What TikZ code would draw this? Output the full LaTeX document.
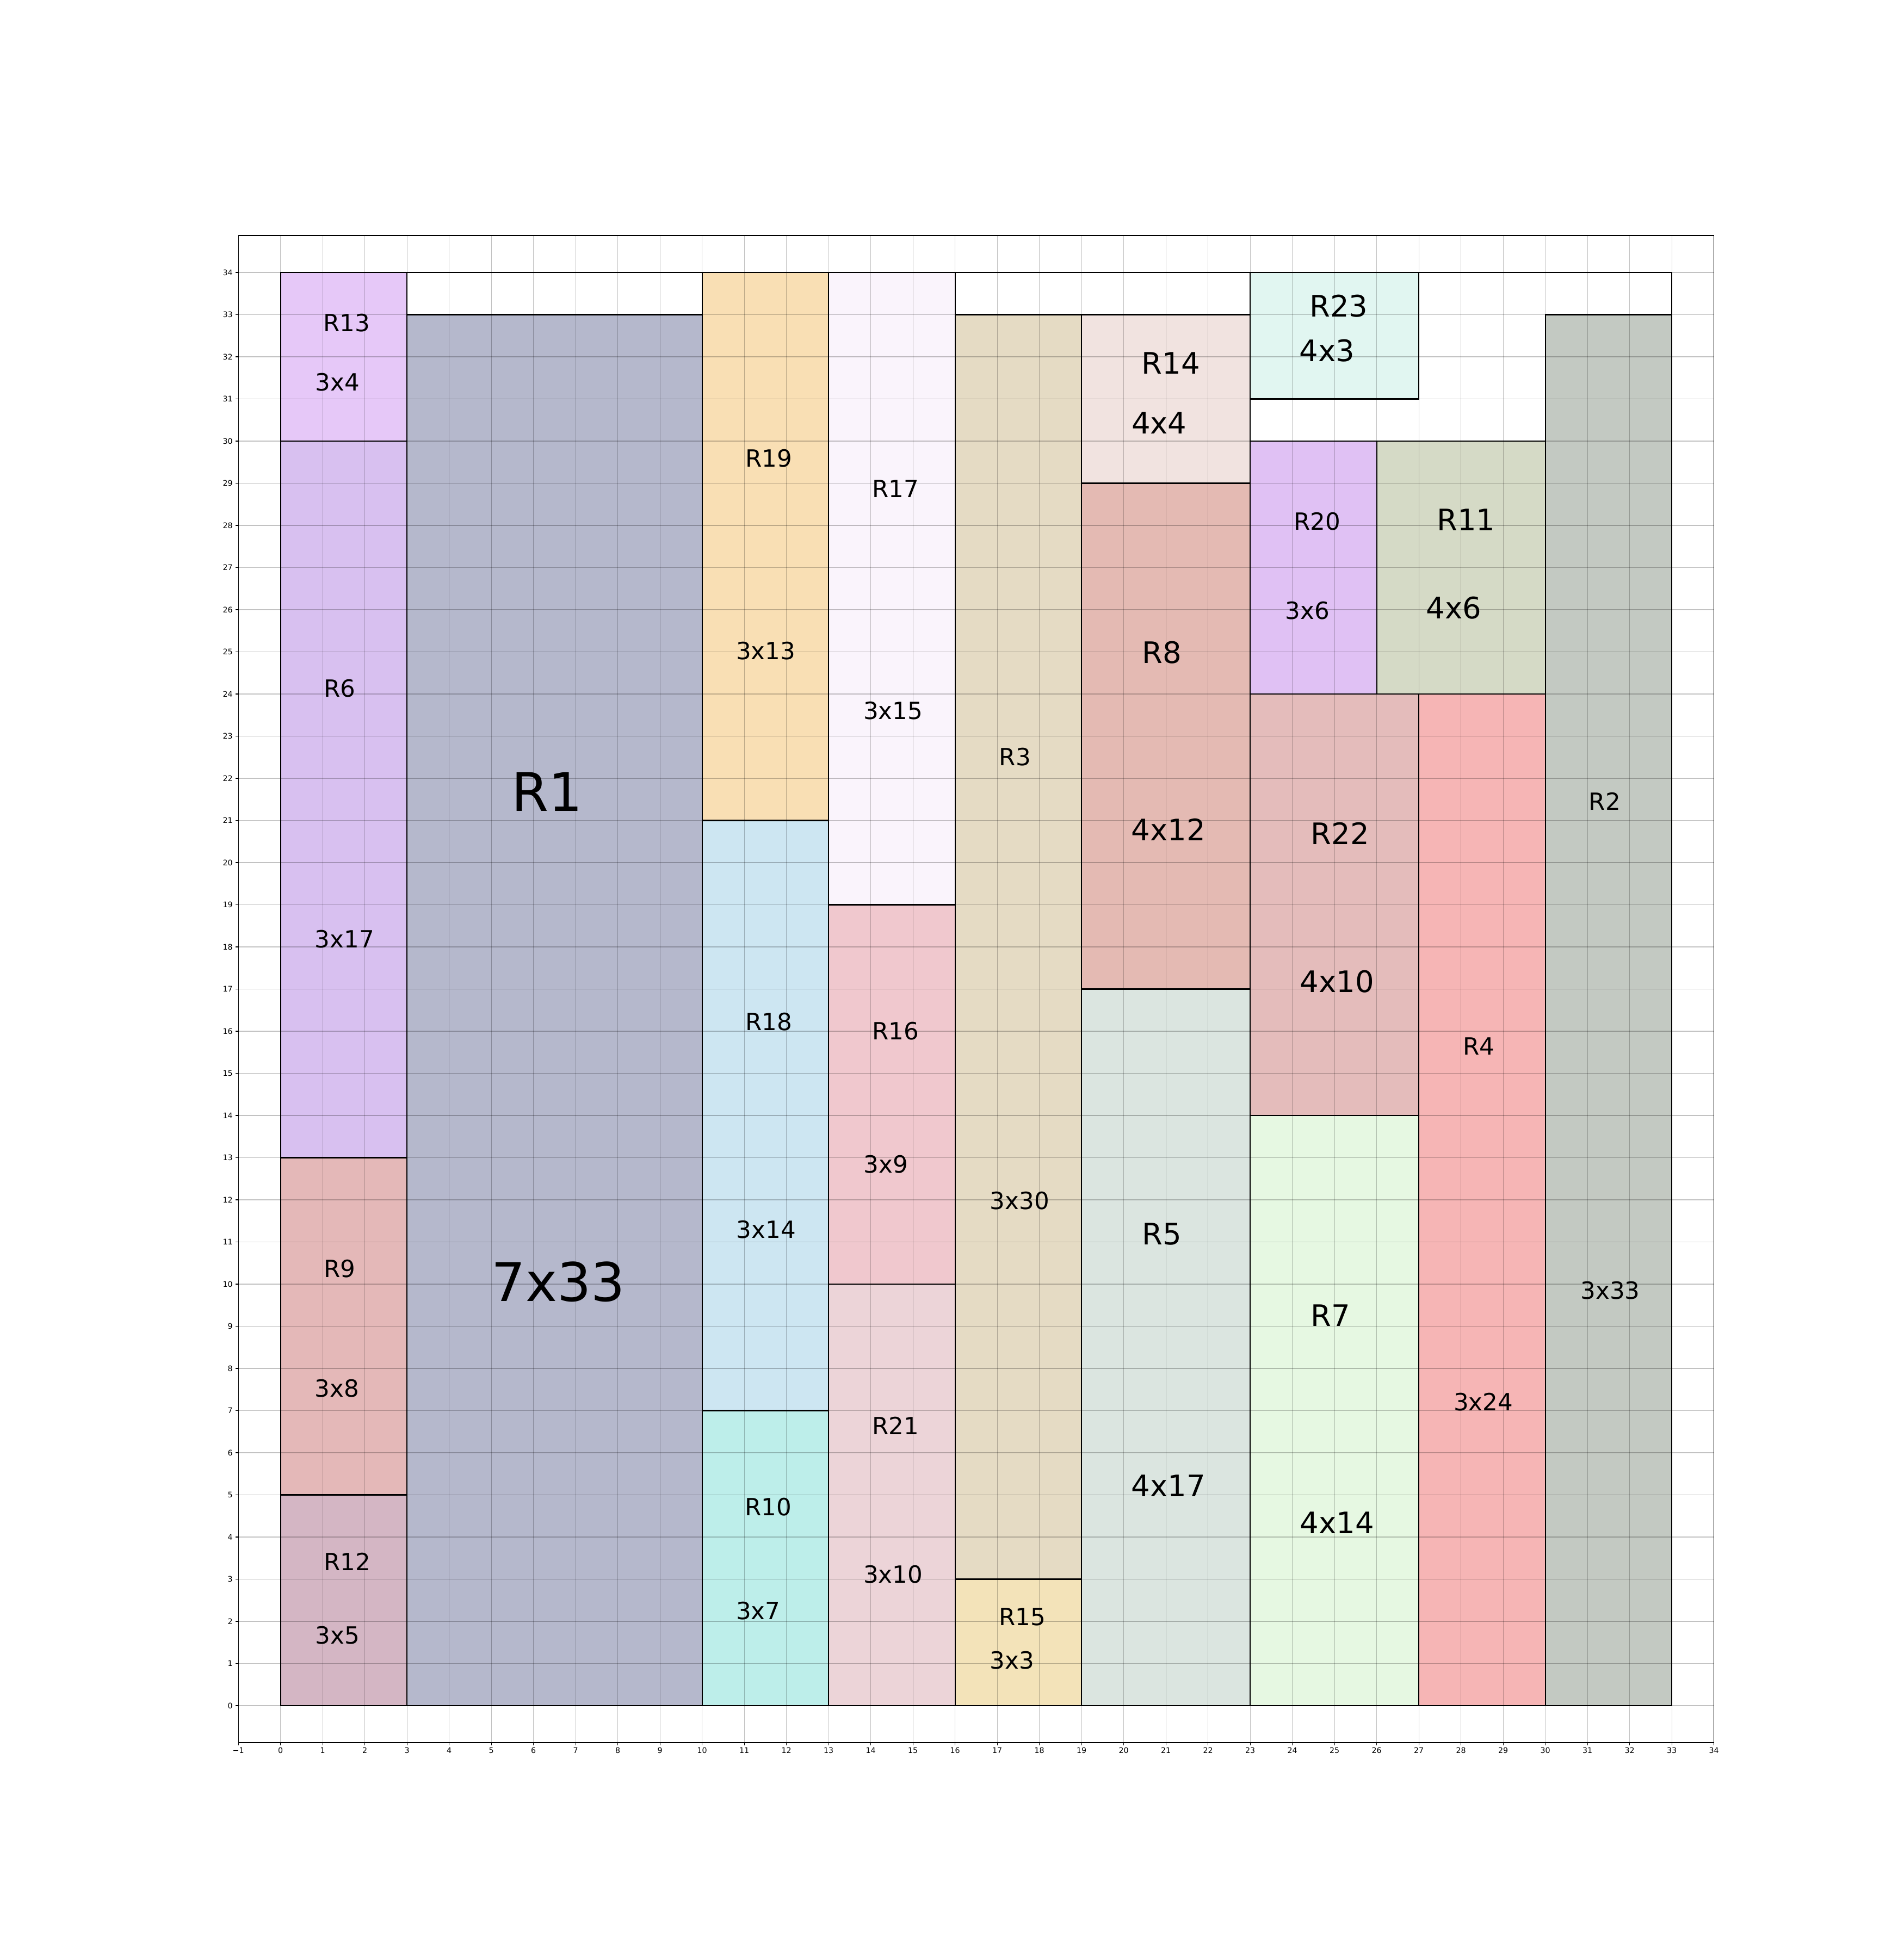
\documentclass[tikz,border=0pt]{standalone}
\usepackage{fontspec}
\setmainfont{DejaVu Sans}
\definecolor{cR1}{HTML}{B5B8CC}
\definecolor{cR2}{HTML}{C3C9C2}
\definecolor{cR3}{HTML}{E5DBC4}
\definecolor{cR4}{HTML}{F6B5B5}
\definecolor{cR5}{HTML}{DBE5E0}
\definecolor{cR6}{HTML}{D8C0F0}
\definecolor{cR7}{HTML}{E6F8E2}
\definecolor{cR8}{HTML}{E4BAB3}
\definecolor{cR9}{HTML}{E4B8B8}
\definecolor{cR10}{HTML}{BDEEEA}
\definecolor{cR11}{HTML}{D5DAC6}
\definecolor{cR12}{HTML}{D4B6C4}
\definecolor{cR13}{HTML}{E6C8F8}
\definecolor{cR14}{HTML}{F1E3E0}
\definecolor{cR15}{HTML}{F3E3B9}
\definecolor{cR16}{HTML}{F0C8CE}
\definecolor{cR17}{HTML}{FAF4FC}
\definecolor{cR18}{HTML}{CDE6F2}
\definecolor{cR19}{HTML}{F9DFB4}
\definecolor{cR20}{HTML}{E0C1F4}
\definecolor{cR21}{HTML}{ECD4D8}
\definecolor{cR22}{HTML}{E4BCBB}
\definecolor{cR23}{HTML}{E1F6F1}
\begin{document}
\begin{tikzpicture}[x=1cm,y=1cm,
  rectbox/.style={draw=black, line width=0.85pt},
  gridline/.style={draw=black, draw opacity=0.24, line width=0.38pt},
  spine/.style={draw=black, line width=0.45pt},
  lblS/.style={font=\fontsize{16}{19}\selectfont, inner sep=0pt},
  lblM/.style={font=\fontsize{20}{24}\selectfont, inner sep=0pt},
  lblL/.style={font=\fontsize{36}{43}\selectfont, inner sep=0pt},
  ticklbl/.style={font=\fontsize{5.2}{6}\selectfont, inner sep=0pt}]
\useasboundingbox (-6.654,-5.987) rectangle (38.507,40.465);
% filled rectangles
\foreach \n/\x/\y/\w/\h in {R13/0/30/3/4, R6/0/13/3/17, R9/0/5/3/8, R12/0/0/3/5,
  R1/3/0/7/33, R19/10/21/3/13, R18/10/7/3/14, R10/10/0/3/7,
  R17/13/19/3/15, R16/13/10/3/9, R21/13/0/3/10, R3/16/3/3/30, R15/16/0/3/3,
  R14/19/29/4/4, R8/19/17/4/12, R5/19/0/4/17, R23/23/31/4/3, R20/23/24/3/6,
  R11/26/24/4/6, R22/23/14/4/10, R7/23/0/4/14, R4/27/0/3/24, R2/30/0/3/33}
  \fill[c\n] (\x,\y) rectangle ++(\w,\h);
% grid
\foreach \i in {-1,...,34} \draw[gridline] (\i,-0.878) -- (\i,34.878);
\foreach \j in {0,...,34} \draw[gridline] (-1,\j) -- (34,\j);
% rectangle borders
\foreach \x/\y/\w/\h in {0/30/3/4, 0/13/3/17, 0/5/3/8, 0/0/3/5,
  3/0/7/33, 10/21/3/13, 10/7/3/14, 10/0/3/7,
  13/19/3/15, 13/10/3/9, 13/0/3/10, 16/3/3/30, 16/0/3/3,
  19/29/4/4, 19/17/4/12, 19/0/4/17, 23/31/4/3, 23/24/3/6,
  26/24/4/6, 23/14/4/10, 23/0/4/14, 27/0/3/24, 30/0/3/33}
  \draw[rectbox] (\x,\y) rectangle ++(\w,\h);
% container outline
\draw[draw=black, line width=0.85pt] (0,0) rectangle (33,34);
% axes frame
\draw[spine] (-1,-0.878) rectangle (34,34.878);
\foreach \i in {-1,...,34} {
  \draw[spine] (\i,-0.878) -- (\i,-0.943);
}
\node[ticklbl, anchor=north] (xtm1) at (-1,-0.99) {−1};
\foreach \i in {0,...,34} {
  \node[ticklbl, anchor=north] (xt\i) at (\i,-0.99) {\i};
}
\foreach \j in {0,...,34} {
  \draw[spine] (-1,\j) -- (-1.065,\j);
  \node[ticklbl, anchor=east] (yt\j) at (-1.13,\j) {\j};
}
% labels
\node[lblS] (l13a) at (1.57,32.80) {R13};
\node[lblS] (l13b) at (1.35,31.40) {3x4};
\node[lblS] (l6a) at (1.40,24.13) {R6};
\node[lblS] (l6b) at (1.52,18.18) {3x17};
\node[lblS] (l9a) at (1.40,10.36) {R9};
\node[lblS] (l9b) at (1.34,7.53) {3x8};
\node[lblS] (l12a) at (1.58,3.41) {R12};
\node[lblS] (l12b) at (1.35,1.67) {3x5};
\node[lblL] (l1a) at (6.32,21.68) {R1};
\node[lblL] (l1b) at (6.59,10.06) {7x33};
\node[lblS] (l19a) at (11.58,29.59) {R19};
\node[lblS] (l19b) at (11.51,25.02) {3x13};
\node[lblS] (l18a) at (11.58,16.22) {R18};
\node[lblS] (l18b) at (11.52,11.30) {3x14};
\node[lblS] (l10a) at (11.57,4.71) {R10};
\node[lblS] (l10b) at (11.33,2.25) {3x7};
\node[lblS] (l17a) at (14.59,28.87) {R17};
\node[lblS] (l17b) at (14.53,23.60) {3x15};
\node[lblS] (l16a) at (14.59,16.01) {R16};
\node[lblS] (l16b) at (14.36,12.84) {3x9};
\node[lblS] (l21a) at (14.59,6.64) {R21};
\node[lblS] (l21b) at (14.53,3.11) {3x10};
\node[lblS] (l3a) at (17.42,22.51) {R3};
\node[lblS] (l3b) at (17.53,11.98) {3x30};
\node[lblS] (l15a) at (17.59,2.11) {R15};
\node[lblS] (l15b) at (17.35,1.07) {3x3};
\node[lblM] (l14a) at (21.12,31.85) {R14};
\node[lblM] (l14b) at (20.84,30.43) {4x4};
\node[lblM] (l8a) at (20.91,24.99) {R8};
\node[lblM] (l8b) at (21.06,20.78) {4x12};
\node[lblM] (l5a) at (20.90,11.19) {R5};
\node[lblM] (l5b) at (21.06,5.22) {4x17};
\node[lblM] (l23a) at (25.10,33.21) {R23};
\node[lblM] (l23b) at (24.82,32.15) {4x3};
\node[lblS] (l20a) at (24.59,28.09) {R20};
\node[lblS] (l20b) at (24.36,25.98) {3x6};
\node[lblM] (l11a) at (28.12,28.14) {R11};
\node[lblM] (l11b) at (27.83,26.04) {4x6};
\node[lblM] (l22a) at (25.13,20.69) {R22};
\node[lblM] (l22b) at (25.06,17.18) {4x10};
\node[lblM] (l7a) at (24.90,9.26) {R7};
\node[lblM] (l7b) at (25.06,4.34) {4x14};
\node[lblS] (l4a) at (28.42,15.64) {R4};
\node[lblS] (l4b) at (28.53,7.21) {3x24};
\node[lblS] (l2a) at (31.41,21.45) {R2};
\node[lblS] (l2b) at (31.54,9.85) {3x33};
\end{tikzpicture}
\end{document}
